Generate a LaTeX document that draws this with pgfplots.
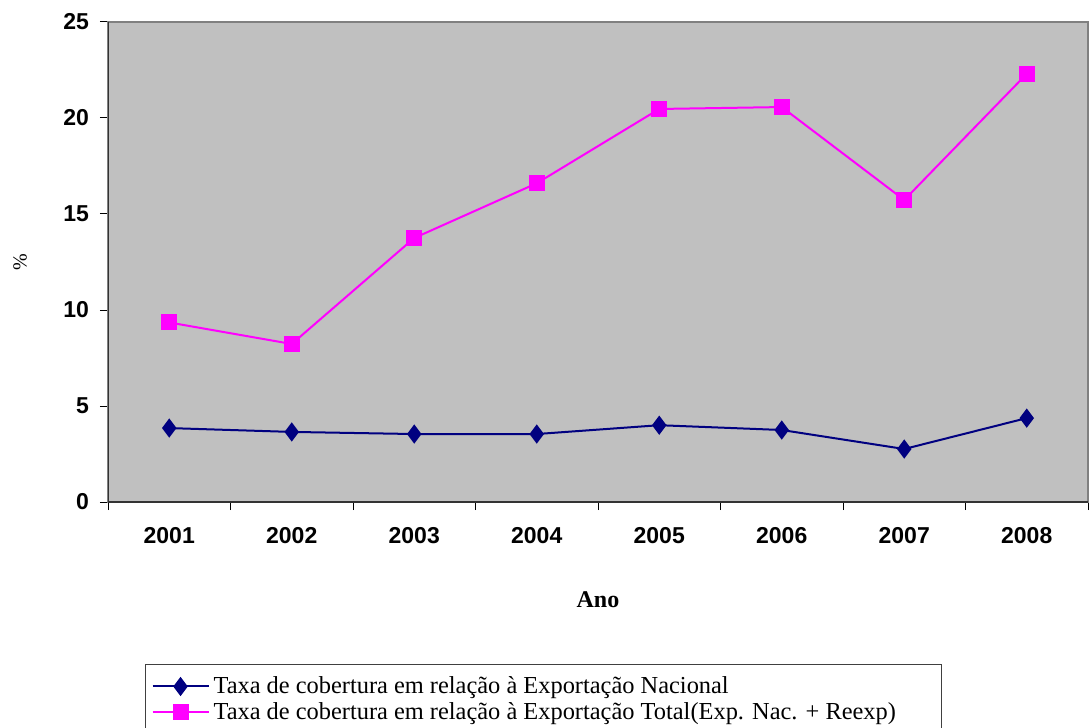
\documentclass[border=0pt]{standalone}
\usepackage{fontspec}
\setmainfont{Liberation Serif}
\newfontfamily\arialfont{Liberation Sans}
\usepackage{pgfplots}
\pgfplotsset{compat=1.18}
\definecolor{bgray}{HTML}{C0C0C0}
\definecolor{navy}{HTML}{000080}
\definecolor{magenta}{HTML}{FF00FF}

\begin{document}
\begin{tikzpicture}
\begin{axis}[
    at={(0,0)}, anchor=south west,
    scale only axis,
    width=490pt, height=240pt,
    xmin=-0.5, xmax=7.5,
    ymin=0, ymax=25,
    xtick={0,...,7},
    xticklabels={2001,2002,2003,2004,2005,2006,2007,2008},
    minor xtick={-0.5,0.5,...,7.5},
    ytick={0,5,...,25},
    tick align=outside,
    tick pos=left,
    major x tick style={draw=none},
    minor tick length=4pt,
    major tick length=4pt,
    every tick/.style={black, line width=0.5pt},
    /pgf/number format/assume math mode=true,
    ticklabel style={font=\arialfont\bfseries\fontsize{11.5}{13}\selectfont},
    xticklabel style={yshift=-5pt},
    yticklabel style={xshift=-2pt},
    axis background/.style={fill=bgray},
    axis line style={draw=gray, line width=0.8pt},
    xlabel={Ano},
    xlabel style={font=\bfseries\fontsize{12}{14}\selectfont, at={(axis description cs:0.5,-0.204)}, anchor=center},
    ylabel={\%},
    ylabel style={font=\fontsize{10}{12}\selectfont, at={(axis description cs:-0.0898,0.5)}, anchor=center},
    legend cell align=left,
    legend style={
        at={(rel axis cs:0.0378,-0.3375)}, anchor=north west,
        draw=black!75, line width=0.5pt,
        font=\fontsize{12.2}{13.5}\selectfont,
        row sep=-1pt,
        inner xsep=3pt, inner ysep=4pt,
    },
    legend image code/.code={
        \draw[mark repeat=2, mark phase=2, #1] plot coordinates {(0pt,0pt) (14pt,0pt) (28pt,0pt)};
    },
]
\addplot[navy, line width=1pt, mark=diamond*, mark size=4pt, mark options={solid, fill=navy, draw=navy}]
    coordinates {(0,3.85) (1,3.65) (2,3.54) (3,3.54) (4,4.00) (5,3.75) (6,2.76) (7,4.37)};
\addlegendentry{Taxa de cobertura em relação à Exportação Nacional}
\addplot[magenta, line width=1pt, mark=square*, mark size=3.5pt, mark options={solid, fill=magenta, draw=magenta}]
    coordinates {(0,9.35) (1,8.23) (2,13.75) (3,16.60) (4,20.47) (5,20.57) (6,15.73) (7,22.30)};
\addlegendentry{Taxa de cobertura em relação à Exportação Total(Exp. Nac. + Reexp)\hspace*{18pt}}
\draw[black!80, line width=0.8pt] (rel axis cs:0,1) -- (rel axis cs:0,0) -- (rel axis cs:1,0);
\end{axis}
\pgfresetboundingbox
\useasboundingbox (-54pt,-112.5pt) rectangle (491pt,251pt);
\end{tikzpicture}
\end{document}
